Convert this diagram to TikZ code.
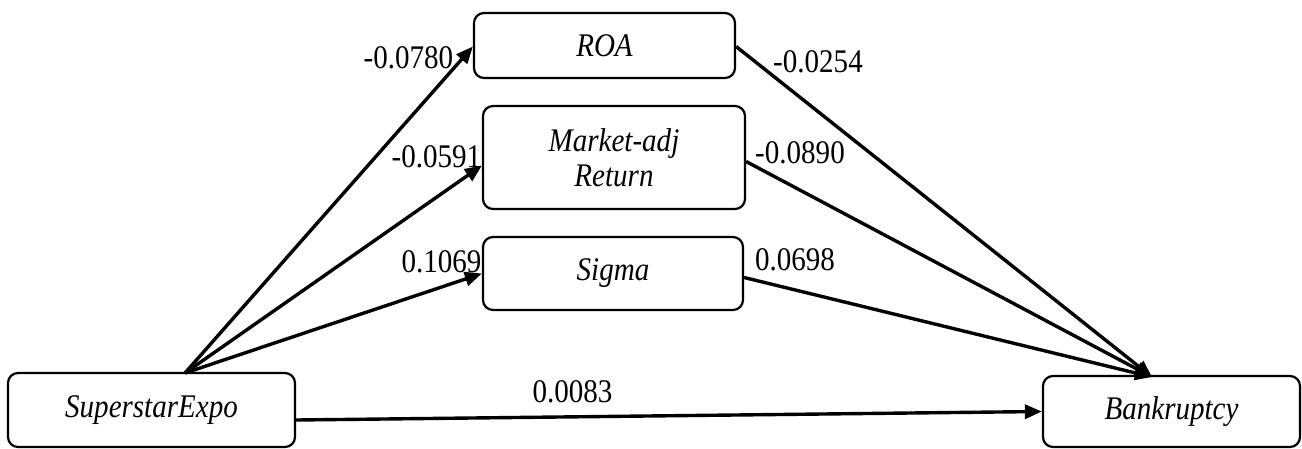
\documentclass[tikz,border=0pt]{standalone}
\usepackage{fontspec}
\setmainfont{Liberation Serif}[FakeStretch=0.88]
\usetikzlibrary{arrows.meta,calc}
\begin{document}
\begin{tikzpicture}[x=1pt,y=-1pt,
  box/.style={draw,line width=2.2pt,rounded corners=10pt,inner sep=0pt,align=center,font=\fontsize{33}{35}\selectfont\itshape},
  lbl/.style={inner sep=0pt,font=\fontsize{33}{36}\selectfont},
  arr/.style={line width=3.4pt,-{Triangle[length=17pt,width=14pt]}}]
\useasboundingbox (0,0) rectangle (1302,448);
\node[box,minimum width=261pt,minimum height=65pt] (roa) at (604.5,45.5) {ROA};
\node[box,minimum width=262pt,minimum height=103pt] (mkt) at (614,157.5) {Market-adj\\Return};
\node[box,minimum width=260pt,minimum height=73pt] (sig) at (613,273.5) {Sigma};
\node[box,minimum width=287pt,minimum height=74pt] (sup) at (151.5,410) {SuperstarExpo};
\node[box,minimum width=257pt,minimum height=71pt] (bank) at (1171.5,411.5) {Bankruptcy};
\coordinate (src) at (185,373);
\coordinate (tip) at (1152,377);
\draw[arr] (src) -- ([yshift=-1pt]roa.west);
\draw[arr] (src) -- ([yshift=-8pt]mkt.west);
\draw[arr] (src) -- (sig.west);
\draw[arr] ([yshift=-10pt]sup.east) -- (bank.west);
\draw[arr] ([yshift=-1pt]roa.east) -- (tip);
\draw[arr] ([yshift=-4pt]mkt.east) -- (tip);
\draw[arr] ([yshift=-4pt]sig.east) -- (tip);
\node[lbl] (l1) at (408.5,58) {-0.0780};
\node[lbl] (l2) at (436.5,157) {-0.0591};
\node[lbl] (l3) at (441.5,262) {0.1069};
\node[lbl] (l4) at (572.5,392) {0.0083};
\node[lbl] (l5) at (818,62) {-0.0254};
\node[lbl] (l6) at (800,153) {-0.0890};
\node[lbl] (l7) at (795,260) {0.0698};
\end{tikzpicture}
\end{document}
